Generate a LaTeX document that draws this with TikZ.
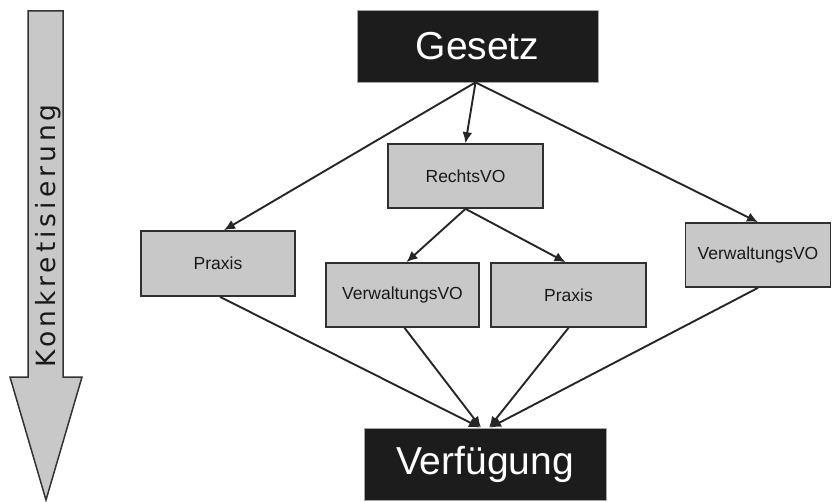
\documentclass[tikz,border=0pt]{standalone}
\usepackage{fontspec}
\setmainfont{Liberation Sans}
\newfontfamily\arrowfont[LetterSpace=15]{DejaVu Sans}
\usetikzlibrary{arrows.meta}
\definecolor{boxgray}{HTML}{C8C8C8}
\definecolor{boxline}{HTML}{303030}
\definecolor{darkbox}{HTML}{1C1C1C}
\tikzset{
  x=1pt, y=1pt,
  graybox/.style={draw=boxline, line width=1.7pt, fill=boxgray, inner sep=0pt,
    font=\fontsize{17.5}{20}\selectfont, text=black!90},
  darkbox/.style={draw=gray!70, line width=0.8pt, fill=darkbox, inner sep=0pt,
    text=white, font=\fontsize{39}{44}\selectfont},
  conn/.style={draw=black!85, line width=1.9pt, -{Latex[length=11pt,width=10pt]}},
}
\begin{document}
\begin{tikzpicture}
\useasboundingbox (0,0) rectangle (832,-502);
% Konkretisierung arrow
\draw[draw=black!80, line width=1.5pt, fill=boxgray, line join=miter]
  (28,-11) -- (63,-11) -- (63,-377) -- (82,-377) -- (46,-500) -- (10,-377) -- (28,-377) -- cycle;
\node[rotate=90, anchor=base, inner sep=0pt, font=\arrowfont\fontsize{26.5}{29}\selectfont, text=black!90] (konk) at (55,-236) {Konkretisierung};
% nodes
\node[darkbox, minimum width=241, minimum height=72] (G) at (477.5,-46) {Gesetz};
\node[darkbox, minimum width=242, minimum height=72] (V) at (485,-464) {Verfügung};
\node[graybox, minimum width=155, minimum height=64] (RV) at (465.5,-176) {RechtsVO};
\node[graybox, minimum width=154, minimum height=65] (PL) at (218,-263.5) {Praxis};
\node[graybox, minimum width=153, minimum height=64] (VM) at (402.5,-295) {VerwaltungsVO};
\node[graybox, minimum width=155, minimum height=64] (PM) at (568.5,-295) {Praxis};
\node[graybox, minimum width=145, minimum height=64] (VR) at (758,-255) {VerwaltungsVO};
% connectors
\coordinate (gs) at ([xshift=-2pt]G.south);
\draw[conn] (gs) -- ([xshift=6pt]PL.north);
\draw[conn] (gs) -- (RV.north);
\draw[conn] (gs) -- (VR.north);
\draw[conn] (RV.south) -- ([xshift=4pt]VM.north);
\draw[conn] (RV.south) -- ([xshift=-3pt]PM.north);
\draw[conn] ([xshift=2pt]PL.south) -- ([xshift=-5pt]V.north);
\draw[conn] ([xshift=2pt]VM.south) -- ([xshift=-4pt]V.north);
\draw[conn] (PM.south) -- ([xshift=4pt]V.north);
\draw[conn] (VR.south) -- ([xshift=5pt]V.north);
\end{tikzpicture}
\end{document}
